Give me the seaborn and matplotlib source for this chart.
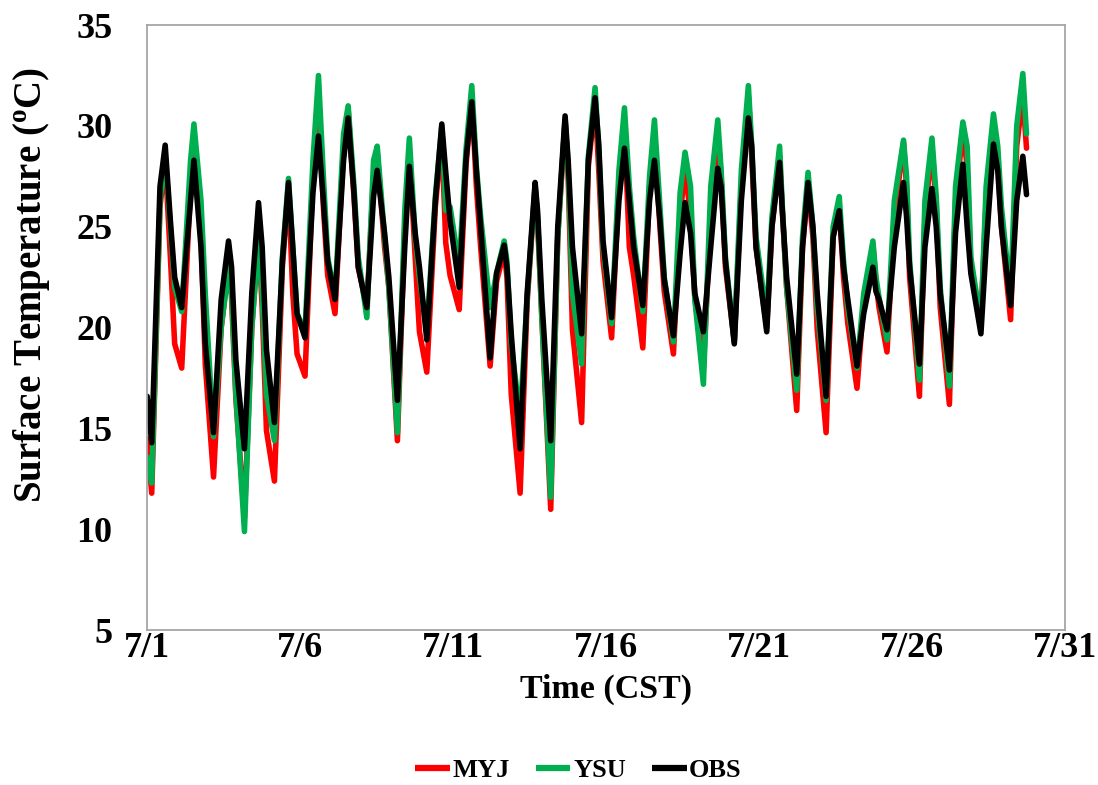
import numpy as np
import pandas as pd
import matplotlib
matplotlib.use("Agg")
import matplotlib.pyplot as plt
import seaborn as sns

models = ["MYJ", "YSU", "OBS"]
colors = ["#FF0000", "#00B050", "#000000"]

# time in days since 7/1 00:00 CST
start_t = 0.0
end_t = 28.74
trough_t = [0.15, 1.13, 2.17, 3.18, 4.16, 5.16, 6.14, 7.18, 8.18, 9.14,
            10.20, 11.21, 12.19, 13.19, 14.20, 15.18, 16.20, 17.20, 18.18, 19.19,
            20.25, 21.23, 22.19, 23.20, 24.18, 25.24, 26.22, 27.25, 28.22]
rise_t = [0.42, 1.42, 2.42, 3.42, 4.42, 5.42, 6.42, 7.40, 8.42, 9.42,
          10.42, 11.42, 12.42, 13.42, 14.42, 15.42, 16.42, 17.42, 18.42, 19.42,
          20.42, 21.42, 22.42, 23.42, 24.42, 25.42, 26.42, 27.42, 28.42]
peak_t = [0.59, 1.53, 2.66, 3.64, 4.62, 5.60, 6.57, 7.52, 8.57, 9.63,
          10.61, 11.67, 12.68, 13.66, 14.64, 15.60, 16.58, 17.58, 18.65, 19.65,
          20.67, 21.60, 22.62, 23.72, 24.72, 25.65, 26.66, 27.66, 28.62]
aft_t = [0.76, 1.76, 2.76, 3.76, 4.76, 5.76, 6.76, 7.76, 8.76, 9.76,
         10.76, 11.76, 12.76, 13.76, 14.76, 15.76, 16.76, 17.76, 18.76, 19.76,
         20.76, 21.76, 22.76, 23.82, 24.82, 25.79, 26.80, 27.80]
eve_t = [0.90, 1.90, 2.90, 3.90, 4.90, 5.90, 6.90, 7.90, 8.90, 9.90,
         10.90, 11.90, 12.90, 13.90, 14.90, 15.90, 16.90, 17.90, 18.90, 19.90,
         20.90, 21.90, 22.90, 23.92, 24.92, 25.92, 26.92, 27.92]

# MYJ
myj_start, myj_end = 14.5, 28.9
myj_trough = [11.8, 18.0, 12.6, 10.6, 12.4, 17.6, 20.7, 21.0, 14.4, 17.8,
              20.9, 18.1, 11.8, 11.0, 15.3, 19.5, 19.0, 18.7, 18.0, 19.3,
              20.0, 15.9, 14.8, 17.0, 18.8, 16.6, 16.2, 20.4, 20.4]
myj_rise = [26.0, 27.0, 20.0, 20.0, 23.0, 27.5, 29.0, 27.5, 25.0, 26.0,
            28.0, 22.3, 21.3, 24.5, 28.0, 27.0, 27.0, 25.5, 25.5, 27.0,
            25.0, 24.0, 24.5, 21.3, 25.5, 25.5, 26.3, 26.3, 29.0]
myj_peak = [28.3, 29.3, 23.0, 24.5, 27.0, 31.3, 30.8, 28.7, 28.8, 29.5,
            31.5, 23.8, 27.0, 30.3, 31.2, 30.0, 29.5, 28.0, 29.5, 31.5,
            28.5, 27.0, 26.0, 24.1, 29.2, 29.0, 29.8, 30.2, 31.5]
myj_aft = [23.5, 24.5, 21.5, 21.0, 21.7, 26.0, 26.5, 24.0, 23.5, 24.2,
           27.0, 22.5, 25.3, 27.5, 27.8, 24.0, 25.0, 25.5, 27.5, 28.5,
           25.8, 24.5, 22.5, 22.3, 27.0, 26.0, 28.0, 28.3]
myj_eve = [19.2, 18.2, 16.5, 14.9, 18.7, 22.6, 23.0, 22.0, 19.8, 22.6,
           24.0, 16.7, 20.5, 19.9, 23.3, 22.6, 21.8, 21.5, 23.0, 24.0,
           22.0, 19.9, 20.2, 21.0, 22.5, 21.0, 23.0, 25.0]

# YSU
ysu_start, ysu_end = 13.6, 29.6
ysu_trough = [12.3, 20.8, 14.6, 9.9, 14.4, 19.8, 21.5, 20.5, 14.8, 19.8,
              23.0, 21.0, 15.5, 11.6, 18.2, 20.2, 20.8, 19.3, 17.2, 19.3,
              20.5, 16.9, 16.4, 18.0, 19.4, 17.4, 17.1, 20.2, 21.5]
ysu_rise = [26.3, 28.3, 20.0, 20.0, 23.5, 28.3, 29.6, 28.3, 25.8, 26.5,
            28.8, 22.7, 21.5, 24.5, 28.5, 27.8, 27.5, 26.7, 27.0, 27.8,
            25.5, 24.5, 25.0, 21.7, 26.3, 26.3, 27.0, 27.0, 30.0]
ysu_peak = [28.6, 30.1, 22.95, 24.3, 27.4, 32.5, 31.0, 29.0, 29.4, 30.0,
            32.0, 24.3, 27.0, 30.3, 31.9, 30.9, 30.3, 28.7, 30.3, 32.0,
            29.0, 27.7, 26.5, 24.3, 29.3, 29.4, 30.2, 30.6, 32.6]
ysu_aft = [25.0, 26.3, 21.7, 21.7, 24.0, 27.5, 27.0, 24.5, 24.5, 25.8,
           28.0, 23.3, 25.5, 28.0, 28.8, 27.0, 26.0, 27.0, 27.8, 29.0,
           26.0, 25.0, 23.3, 22.5, 27.5, 26.5, 29.0, 29.0]
ysu_eve = [22.0, 21.7, 16.7, 16.7, 20.7, 23.5, 23.5, 22.0, 22.5, 26.0,
           25.5, 19.2, 20.5, 21.7, 24.0, 24.5, 22.5, 21.4, 23.5, 24.5,
           22.0, 21.0, 21.0, 21.5, 23.3, 22.0, 23.5, 26.0]

# OBS
obs_start, obs_end = 16.6, 26.6
obs_trough = [14.3, 21.0, 14.8, 14.0, 15.3, 19.5, 21.4, 21.0, 16.4, 19.4,
              22.0, 18.5, 14.0, 14.4, 19.7, 20.5, 21.1, 19.6, 19.8, 19.2,
              19.8, 17.7, 16.6, 18.1, 19.9, 18.2, 17.9, 19.7, 21.1]
obs_rise = [27.0, 26.3, 21.4, 21.7, 23.3, 26.7, 28.3, 26.5, 24.0, 26.3,
            28.3, 22.7, 21.7, 25.0, 28.3, 26.3, 26.3, 23.7, 24.0, 26.3,
            25.0, 24.0, 24.5, 20.7, 24.0, 24.0, 24.7, 24.0, 26.3]
obs_peak = [29.05, 28.3, 24.3, 26.2, 27.2, 29.5, 30.4, 27.8, 28.0, 30.1,
            31.2, 24.1, 27.2, 30.5, 31.4, 28.9, 28.3, 26.2, 27.9, 30.4,
            28.2, 27.2, 25.8, 23.0, 27.2, 26.9, 28.1, 29.1, 28.5]
obs_aft = [25.3, 24.0, 23.0, 24.0, 24.0, 26.3, 26.7, 24.7, 24.7, 27.7,
           27.8, 23.0, 25.8, 28.3, 29.1, 26.3, 25.3, 24.7, 27.0, 29.0,
           25.8, 25.0, 23.0, 21.8, 25.5, 25.0, 25.0, 27.8]
obs_eve = [22.5, 19.2, 18.4, 18.9, 20.7, 23.3, 23.0, 22.5, 23.0, 25.3,
           25.0, 19.7, 21.4, 24.0, 24.3, 24.0, 22.4, 21.7, 23.3, 24.0,
           22.5, 21.7, 21.4, 21.4, 23.0, 21.7, 22.7, 25.0]

xtick_pos = [0, 5, 10, 15, 20, 25, 30]
xtick_labels = ["7/1", "7/6", "7/11", "7/16", "7/21", "7/26", "7/31"]
ytick_pos = [5, 10, 15, 20, 25, 30, 35]


def build(name, start, trough, rise, peak, aft, eve, end):
    t = [start_t] + trough_t + rise_t + peak_t + aft_t + eve_t + [end_t]
    v = [start] + trough + rise + peak + aft + eve + [end]
    return pd.DataFrame({"day": t, "temp": v, "model": name})


df = pd.concat([
    build("MYJ", myj_start, myj_trough, myj_rise, myj_peak, myj_aft, myj_eve, myj_end),
    build("YSU", ysu_start, ysu_trough, ysu_rise, ysu_peak, ysu_aft, ysu_eve, ysu_end),
    build("OBS", obs_start, obs_trough, obs_rise, obs_peak, obs_aft, obs_eve, obs_end),
], ignore_index=True)

sns.set_style("white")
plt.rcParams["font.family"] = ["Liberation Serif", "DejaVu Serif"]
plt.rcParams["font.weight"] = "bold"
plt.rcParams["text.color"] = "black"
plt.rcParams["axes.labelcolor"] = "black"
plt.rcParams["xtick.labelcolor"] = "black"
plt.rcParams["ytick.labelcolor"] = "black"
plt.rcParams["mathtext.fontset"] = "custom"
plt.rcParams["mathtext.rm"] = "Liberation Serif:bold"
plt.rcParams["mathtext.it"] = "Liberation Serif:bold"
plt.rcParams["mathtext.bf"] = "Liberation Serif:bold"

fig = plt.figure(figsize=(10.98, 7.85), dpi=100)
ax = fig.add_axes([0.134, 0.197, 0.836, 0.771])

sns.lineplot(data=df, x="day", y="temp", hue="model", hue_order=models,
             palette=dict(zip(models, colors)), estimator=None, sort=True,
             linewidth=4.0, solid_joinstyle="round", solid_capstyle="round",
             ax=ax)

ax.set_xlim(0, 30)
ax.set_ylim(5, 35)
ax.set_xticks(xtick_pos)
ax.set_xticklabels(xtick_labels)
ax.set_yticks(ytick_pos)

gray = "#A6A6A6"
for s in ax.spines.values():
    s.set_color(gray)
    s.set_linewidth(1.3)
ax.tick_params(axis="both", direction="in", length=8, width=1.2, color=gray,
               labelsize=26, labelcolor="black")
ax.tick_params(axis="x", pad=1)
ax.tick_params(axis="y", pad=25)

ax.set_xlabel("Time (CST)", fontsize=24.5, fontweight="bold", color="black")
ax.set_ylabel(r"Surface Temperature ($^{\mathrm{o}}$C)", fontsize=28,
              fontweight="bold", color="black")
ax.xaxis.set_label_coords(0.5, -0.072)
ax.yaxis.set_label_coords(-0.104, 0.57)

sns.move_legend(ax, "center", bbox_to_anchor=(0.527, 0.019),
                bbox_transform=fig.transFigure, ncol=3, frameon=False,
                title=None, fontsize=19, handlelength=1.3, handletextpad=0.1,
                columnspacing=1.0)
for line in ax.get_legend().get_lines():
    line.set_linewidth(4.5)
    line.set_solid_capstyle("butt")
for txt in ax.get_legend().get_texts():
    txt.set_color("black")

fig.savefig("out.png", dpi=100)
